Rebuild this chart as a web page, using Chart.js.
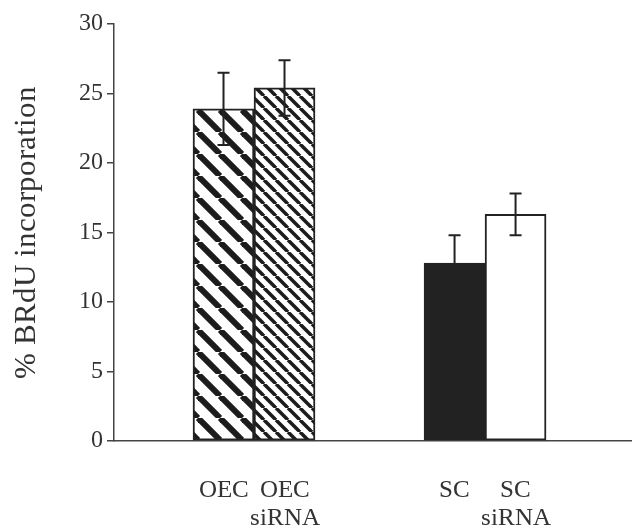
<!DOCTYPE html>
<html>
<head>
<meta charset="utf-8">
<script src="https://cdn.jsdelivr.net/npm/chart.js@4.4.1/dist/chart.umd.min.js"></script>
<style>
  @font-face {
    font-family: 'FigSerif';
    src: local('Liberation Serif'), local('LiberationSerif'), local('LiberationSerif-Regular'), local('Liberation Serif Regular'), local('Times New Roman');
  }
  body { margin: 0; background: #fff; }
  #wrap { width: 632px; height: 531px; }
</style>
</head>
<body>
<div id="wrap"><canvas id="brdu" width="632" height="531"></canvas></div>
<script>
// data
const groups = ['OEC', 'SC'];
const seriesNames = ['', 'siRNA'];
const controlValues = [23.9, 12.8];
const controlErrors = [2.6, 2.0];
const sirnaValues = [25.4, 16.3];
const sirnaErrors = [2.0, 1.5];
const yTicks = [0, 5, 10, 15, 20, 25, 30];

const ink = '#222';
const textInk = '#333';
const serif = 'FigSerif, "Liberation Serif", "Times New Roman", serif';

// diagonal hatch fill, lines running top-left to bottom-right
function stripes(period, width) {
    const tile = document.createElement('canvas');
    tile.width = period;
    tile.height = period;
    const c = tile.getContext('2d');
    c.fillStyle = '#fff';
    c.fillRect(0, 0, period, period);
    c.strokeStyle = '#1c1c1c';
    c.lineWidth = width;
    for (let k = -period; k <= period; k += period) {
        c.beginPath();
        c.moveTo(k, 0);
        c.lineTo(k + period, period);
        c.stroke();
    }
    return c.createPattern(tile, 'repeat');
}

// error bars drawn from the y scale
const errorBars = {
    id: 'errorBars',
    afterDatasetsDraw(chart) {
        const c = chart.ctx;
        const y = chart.scales.y;
        c.save();
        c.strokeStyle = ink;
        c.lineWidth = 2;
        chart.data.datasets.forEach(function(ds, d) {
            chart.getDatasetMeta(d).data.forEach(function(bar, i) {
                const v = ds.data[i].y, e = ds.errors[i];
                const top = y.getPixelForValue(v + e);
                const bot = y.getPixelForValue(v - e);
                c.beginPath();
                c.moveTo(bar.x, top); c.lineTo(bar.x, bot);
                c.moveTo(bar.x - 6, top); c.lineTo(bar.x + 6, top);
                c.moveTo(bar.x - 6, bot); c.lineTo(bar.x + 6, bot);
                c.stroke();
            });
        });
        c.restore();
    }
};

// one label under each bar
const barLabels = {
    id: 'barLabels',
    afterDraw(chart) {
        const c = chart.ctx;
        const bottom = chart.chartArea.bottom;
        c.save();
        c.font = '25px ' + serif;
        c.fillStyle = textInk;
        c.textAlign = 'center';
        c.textBaseline = 'alphabetic';
        chart.data.datasets.forEach(function(ds, d) {
            chart.getDatasetMeta(d).data.forEach(function(bar, i) {
                c.fillText(groups[i], bar.x, bottom + 56);
                if (seriesNames[d]) c.fillText(seriesNames[d], bar.x, bottom + 84);
            });
        });
        c.restore();
    }
};

function drawChart() {
    const brdu = document.getElementById('brdu').getContext('2d');
    new Chart(brdu, {
        type: 'bar',
        data: {
            datasets: [{
                label: 'control',
                data: groups.map((g, i) => ({ x: i + 1, y: controlValues[i] })),
                errors: controlErrors,
                backgroundColor: [stripes(22, 6), ink],
            },
            {
                label: 'siRNA',
                data: groups.map((g, i) => ({ x: i + 1, y: sirnaValues[i] })),
                errors: sirnaErrors,
                backgroundColor: [stripes(12, 3.5), '#ffffff'],
            }]
        },
        options: {
            responsive: false,
            animation: false,
            barThickness: 61,
            borderColor: ink,
            borderWidth: 2,
            borderSkipped: false,
            layout: { padding: { top: 24, right: 0, bottom: 0, left: 0 } },
            plugins: { legend: { display: false }, tooltip: { enabled: false } },
            scales: {
                x: {
                    type: 'linear',
                    offset: false,
                    min: 0.394,
                    max: 2.636,
                    grid: { display: false },
                    border: { display: true, color: '#444', width: 1.5 },
                    ticks: { display: false, stepSize: 1, includeBounds: false },
                    afterFit(s) { s.height = 90; }
                },
                y: {
                    min: 0,
                    max: 30,
                    afterBuildTicks(s) { s.ticks = yTicks.map(v => ({ value: v })); },
                    ticks: { color: textInk, font: { family: serif, size: 24 }, padding: 4 },
                    grid: { drawOnChartArea: false, drawTicks: true, tickLength: 7, color: '#444', lineWidth: 1.5 },
                    border: { color: '#444', width: 1.5 },
                    title: {
                        display: true,
                        text: '% BRdU incorporation',
                        color: textInk,
                        font: { family: serif, size: 31, weight: 'normal' },
                        padding: { top: 8, bottom: 0 }
                    },
                    afterFit(s) { s.width = 114; }
                }
            }
        },
        plugins: [errorBars, barLabels]
    });
}

document.fonts.load('24px FigSerif').then(drawChart, drawChart);
</script>
</body>
</html>
